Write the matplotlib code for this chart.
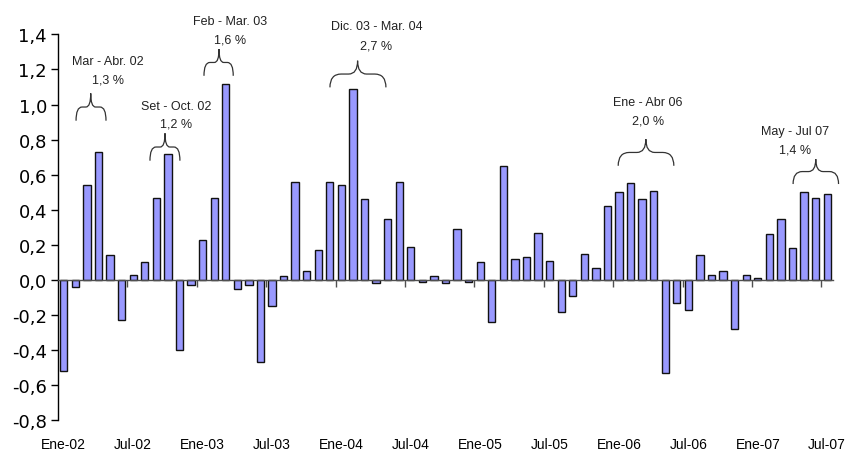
import matplotlib
matplotlib.use("Agg")
import matplotlib.pyplot as plt
from matplotlib.path import Path
from matplotlib.patches import PathPatch
from matplotlib.ticker import FuncFormatter, FixedLocator
import numpy as np

# ---- data ----
values = [
    -0.52, -0.04, 0.54, 0.73, 0.14, -0.23, 0.03, 0.10, 0.47, 0.72, -0.40, -0.03,   # 2002
    0.23, 0.47, 1.12, -0.05, -0.03, -0.47, -0.15, 0.02, 0.56, 0.05, 0.17, 0.56,    # 2003
    0.54, 1.09, 0.46, -0.02, 0.35, 0.56, 0.19, -0.01, 0.02, -0.02, 0.29, -0.01,    # 2004
    0.10, -0.24, 0.65, 0.12, 0.13, 0.27, 0.11, -0.18, -0.09, 0.15, 0.07, 0.42,     # 2005
    0.50, 0.55, 0.46, 0.51, -0.53, -0.13, -0.17, 0.14, 0.03, 0.05, -0.28, 0.03,    # 2006
    0.01, 0.26, 0.35, 0.18, 0.50, 0.47, 0.49,                                      # 2007
]
tick_labels = ["Ene-02", "Jul-02", "Ene-03", "Jul-03", "Ene-04", "Jul-04",
               "Ene-05", "Jul-05", "Ene-06", "Jul-06", "Ene-07", "Jul-07"]
yticks = [-0.8, -0.6, -0.4, -0.2, 0.0, 0.2, 0.4, 0.6, 0.8, 1.0, 1.2, 1.4]

ann_titles = ["Mar - Abr. 02", "Set - Oct. 02", "Feb - Mar. 03",
              "Dic. 03 - Mar. 04", "Ene - Abr 06", "May - Jul 07"]
ann_pcts = ["1,3 %", "1,2 %", "1,6 %", "2,7 %", "2,0 %", "1,4 %"]

# ---- layout of the annotations (brace x0, x1, xpeak, ytips, ypeak, text x, title y, pct y) ----
ann_layout = [
    (1.06, 3.65, 2.33, 0.908, 1.064, 3.78, 1.250, 1.145),
    (7.45, 10.04, 8.75, 0.680, 0.836, 9.70, 0.993, 0.893),
    (12.12, 14.65, 13.42, 1.164, 1.316, 14.40, 1.478, 1.373),
    (23.01, 27.85, 25.40, 1.098, 1.250, 27.03, 1.446, 1.339),
    (47.93, 52.74, 50.32, 0.651, 0.803, 50.50, 1.013, 0.908),
    (63.05, 66.98, 65.01, 0.547, 0.689, 63.20, 0.851, 0.746),
]

W, H = 846, 452
fig = plt.figure(figsize=(W / 100, H / 100), dpi=100)
ax = fig.add_axes([58 / W, 1 - 421.3 / H, (833 - 58) / W, (421.3 - 35.4) / H])

n = len(values)
x = np.arange(n)
ax.bar(x, values, width=0.63, color="#9999FF", edgecolor="#111111", linewidth=1.0, zorder=3)

ax.set_xlim(-0.5, n - 0.5)
ax.set_ylim(-0.8, 1.4)

# y axis
ax.set_yticks(yticks)
ax.yaxis.set_major_formatter(FuncFormatter(lambda v, p: f"{v:.1f}".replace(".", ",").replace("-0,0", "0,0")))
ax.tick_params(axis="y", direction="out", length=5, width=1, pad=3, labelsize=13, colors="black")
for lab in ax.get_yticklabels():
    lab.set_family("DejaVu Sans")

# spines
for s in ["top", "right"]:
    ax.spines[s].set_visible(False)
ax.spines["left"].set_linewidth(1)
ax.spines["left"].set_color("black")
ax.spines["bottom"].set_position(("data", 0))
ax.spines["bottom"].set_color("#505050")
ax.spines["bottom"].set_linewidth(1)
ax.spines["bottom"].set_zorder(4)

# x-axis ticks at category boundaries (on zero line)
ax.xaxis.set_major_locator(FixedLocator(np.arange(5.5, n, 6)))
ax.tick_params(axis="x", direction="out", length=5, width=1, colors="#505050", labelbottom=False)

# labels at bottom
sec = ax.secondary_xaxis(0.0)
sec.set_xticks(np.arange(0, n, 6))
sec.set_xticklabels(tick_labels, family="Liberation Sans", fontsize=10)
sec.tick_params(axis="x", length=0, pad=12)
sec.spines["bottom"].set_visible(False)


def brace(ax, x0, x1, xm, yb, yt):
    ym = (yb + yt) / 2
    w = x1 - x0
    rx = 0.2 * w
    rm = 0.16 * w
    verts = [
        (x0, yb), (x0, ym), (x0 + rx, ym),
        (xm - rm, ym),
        (xm, ym), (xm, yt),
        (xm, ym), (xm + rm, ym),
        (x1 - rx, ym),
        (x1, ym), (x1, yb),
    ]
    codes = [Path.MOVETO, Path.CURVE3, Path.CURVE3,
             Path.LINETO,
             Path.CURVE3, Path.CURVE3,
             Path.CURVE3, Path.CURVE3,
             Path.LINETO,
             Path.CURVE3, Path.CURVE3]
    ax.add_patch(PathPatch(Path(verts, codes), fill=False, edgecolor="#333333",
                           linewidth=0.9, zorder=5, clip_on=False))


for title, pct, lay in zip(ann_titles, ann_pcts, ann_layout):
    bx0, bx1, bxm, byb, byt, tx, ty1, ty2 = lay
    brace(ax, bx0, bx1, bxm, byb, byt)
    ax.text(tx, ty1, title, ha="center", va="center", fontsize=9,
            family="Liberation Sans", color="#222222", clip_on=False)
    ax.text(tx, ty2, pct, ha="center", va="center", fontsize=9,
            family="Liberation Sans", color="#222222", clip_on=False)

fig.savefig("out.png", dpi=100)
